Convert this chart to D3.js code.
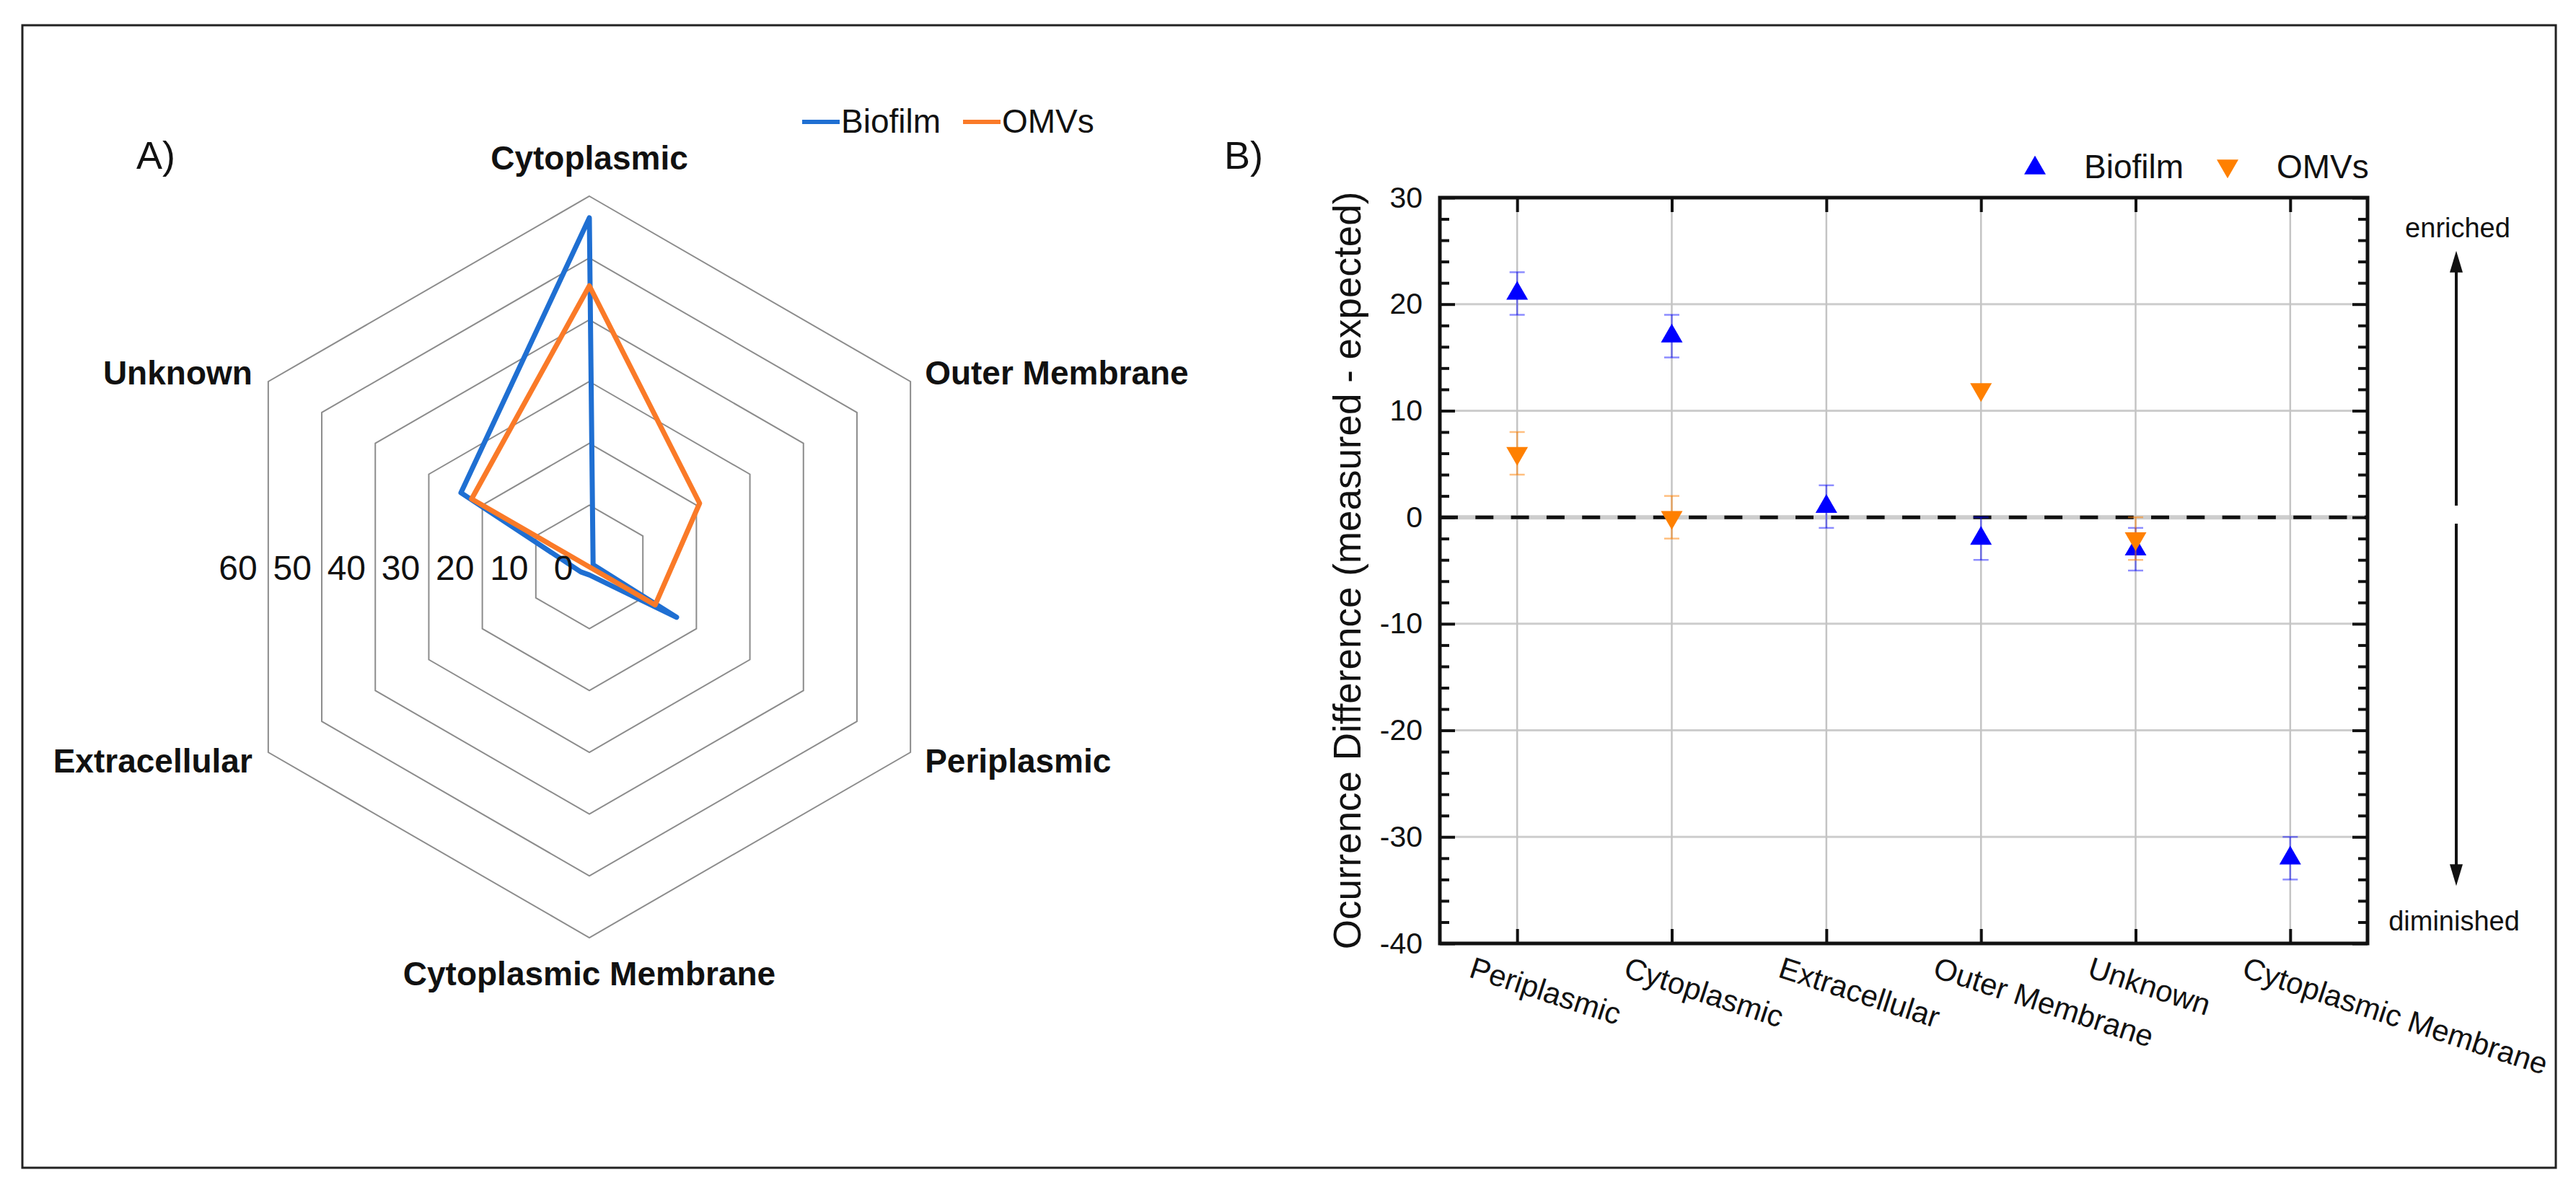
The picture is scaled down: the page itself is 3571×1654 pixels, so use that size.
<!DOCTYPE html>
<html>
<head>
<meta charset="utf-8">
<script src="https://cdnjs.cloudflare.com/ajax/libs/d3/7.8.5/d3.min.js"></script>
<style>
body { margin: 0; background: #fff; }
svg { display: block; font-family: "Liberation Sans", Arial, sans-serif; }
</style>
</head>
<body>
<div id="graphicContainer"></div>
<script>
// panel A : radar
const radarCategories = ["Cytoplasmic", "Outer Membrane", "Periplasmic", "Cytoplasmic Membrane", "Extracellular", "Unknown"]
const radarBiofilm = [56.5, 0.7, 16.3, 1.3, 1.6, 24]
const radarOMVs = [45.5, 20.6, 12.3, 0, 0, 22]
const radarTicks = [0, 10, 20, 30, 40, 50, 60]

// panel B : occurrence difference
const diffCategories = ["Periplasmic", "Cytoplasmic", "Extracellular", "Outer Membrane", "Unknown", "Cytoplasmic Membrane"]
const diffBiofilm = [21, 17, 1, -2, -3, -32]
const diffBiofilmErr = [2, 2, 2, 2, 2, 2]
const diffOMVs = [6, 0, null, 12, -2, null]
const diffOMVsErr = [2, 2, null, 0, 2, null]
const diffTicks = [-40, -30, -20, -10, 0, 10, 20, 30]

const seriesNames = ["Biofilm", "OMVs"]

var W = 3571, H = 1654
var svg = d3.select("#graphicContainer").append("svg")
    .attr("width", W)
    .attr("height", H)

// outer frame
svg.append("rect")
    .attr("x", 31).attr("y", 35)
    .attr("width", 3512).attr("height", 1584)
    .attr("fill", "none")
    .attr("stroke", "#222")
    .attr("stroke-width", 3)

// ---------------- A) radar ----------------
var cx = 817, cy = 786, R = 514
var n = radarCategories.length
var rScale = d3.scaleLinear().domain([0, 60]).range([0, R])
var aScale = d3.scaleLinear().domain([0, n]).range([0, 2 * Math.PI])
var radarColor = d3.scaleOrdinal().domain(seriesNames).range(["#1f6fd2", "#fa7a28"])

function pt(v, i) {
    var a = aScale(i)
    return [cx + rScale(v) * Math.sin(a), cy - rScale(v) * Math.cos(a)]
}
var radarLine = d3.line().curve(d3.curveLinearClosed)

var radar = svg.append("g")

radar.selectAll(".ring")
    .data(radarTicks.filter(t => t > 0))
    .enter()
    .append("path")
    .attr("fill", "none")
    .attr("stroke", "#8c8c8c")
    .attr("stroke-width", 2)
    .attr("d", t => radarLine(radarCategories.map((c, i) => pt(t, i))))

var radarSeries = [
    {key: "Biofilm", values: radarBiofilm},
    {key: "OMVs", values: radarOMVs}
]

radar.selectAll(".series")
    .data(radarSeries)
    .enter()
    .append("path")
    .attr("fill", "none")
    .attr("stroke", d => radarColor(d.key))
    .attr("stroke-width", 7)
    .attr("stroke-linejoin", "round")
    .attr("d", d => radarLine(d.values.map((v, i) => pt(v, i))))

// value labels along the horizontal
var tickX = d3.scaleLinear().domain([0, 60]).range([781, 330])
radar.selectAll(".rtick")
    .data(radarTicks)
    .enter()
    .append("text")
    .attr("x", d => tickX(d))
    .attr("y", cy + 18)
    .attr("text-anchor", "middle")
    .attr("font-size", 48)
    .attr("fill", "#111")
    .text(d => d)

// category labels
radar.selectAll(".cat")
    .data(radarCategories)
    .enter()
    .append("text")
    .attr("font-size", 46)
    .attr("font-weight", "bold")
    .attr("fill", "#111")
    .each(function(d, i) {
        var p = pt(60, i)
        var s = Math.sin(aScale(i)), c = Math.cos(aScale(i))
        var anchor = Math.abs(s) < 0.1 ? "middle" : (s > 0 ? "start" : "end")
        var dx = Math.abs(s) < 0.1 ? 0 : (s > 0 ? 20 : -22)
        var dy = c > 0.9 ? -37 : (c < -0.9 ? 66 : (c > 0 ? 4 : 28))
        d3.select(this)
            .attr("x", p[0] + dx)
            .attr("y", p[1] + dy)
            .attr("text-anchor", anchor)
            .text(d)
    })

// legend A
var legA = svg.append("g")
var legAx = [1112, 1335]
seriesNames.forEach((s, i) => {
    legA.append("line")
        .attr("x1", legAx[i]).attr("x2", legAx[i] + 52)
        .attr("y1", 169).attr("y2", 169)
        .attr("stroke", radarColor(s))
        .attr("stroke-width", 6)
    legA.append("text")
        .attr("x", legAx[i] + 54)
        .attr("y", 184)
        .attr("font-size", 46)
        .attr("fill", "#111")
        .text(s)
})

svg.append("text").attr("x", 189).attr("y", 234).attr("font-size", 54).attr("fill", "#111").text("A)")
svg.append("text").attr("x", 1697).attr("y", 234).attr("font-size", 54).attr("fill", "#111").text("B)")

// ---------------- B) scatter with error bars ----------------
var pLeft = 1996, pRight = 3282, pTop = 274, pBottom = 1308
var x = d3.scalePoint().domain(diffCategories).range([pLeft, pRight]).padding(0.5)
var y = d3.scaleLinear().domain([-40, 30]).range([pBottom, pTop])
var markColor = d3.scaleOrdinal().domain(seriesNames).range(["#0000ff", "#ff8000"])
var errColor = d3.scaleOrdinal().domain(seriesNames).range(["rgba(0,0,255,0.45)", "rgba(255,128,0,0.5)"])

var plot = svg.append("g")

// grid
plot.selectAll(".hgrid")
    .data(diffTicks.filter(t => t > -40 && t < 30))
    .enter()
    .append("line")
    .attr("x1", pLeft).attr("x2", pRight)
    .attr("y1", d => y(d)).attr("y2", d => y(d))
    .attr("stroke", "#cdcdcd")
    .attr("stroke-width", d => d == 0 ? 6 : 3)

plot.selectAll(".vgrid")
    .data(diffCategories)
    .enter()
    .append("line")
    .attr("x1", d => x(d)).attr("x2", d => x(d))
    .attr("y1", pTop).attr("y2", pBottom)
    .attr("stroke", "#c4c4c4")
    .attr("stroke-width", 2.5)

// zero line
plot.append("line")
    .attr("x1", pLeft).attr("x2", pRight)
    .attr("y1", y(0)).attr("y2", y(0))
    .attr("stroke", "#111")
    .attr("stroke-width", 5)
    .attr("stroke-dasharray", "25,24.3")

// axes, ticks inward
var minorTicks = d3.range(-38, 30, 2).filter(t => t % 10 != 0)

function styleAxis(g) {
    g.select(".domain").remove()
    g.selectAll(".tick line").attr("stroke", "#111").attr("stroke-width", 4)
}

plot.append("g")
    .attr("transform", `translate(${pLeft},0)`)
    .call(d3.axisLeft(y).tickValues(diffTicks).tickSize(-21).tickPadding(24).tickFormat(d => String(d)))
    .call(styleAxis)
    .call(g => g.selectAll("text").attr("font-size", 41).attr("fill", "#111").attr("font-family", "Liberation Sans, Arial, sans-serif"))

plot.append("g")
    .attr("transform", `translate(${pLeft},0)`)
    .call(d3.axisLeft(y).tickValues(minorTicks).tickSize(-13).tickFormat(""))
    .call(styleAxis)

plot.append("g")
    .attr("transform", `translate(${pRight},0)`)
    .call(d3.axisRight(y).tickValues(diffTicks).tickSize(-21).tickFormat(""))
    .call(styleAxis)

plot.append("g")
    .attr("transform", `translate(${pRight},0)`)
    .call(d3.axisRight(y).tickValues(minorTicks).tickSize(-13).tickFormat(""))
    .call(styleAxis)

plot.append("g")
    .attr("transform", `translate(0,${pTop})`)
    .call(d3.axisTop(x).tickSize(-20).tickFormat(""))
    .call(styleAxis)

plot.append("g")
    .attr("transform", `translate(0,${pBottom})`)
    .call(d3.axisBottom(x).tickSize(-20))
    .call(styleAxis)
    .call(g => g.selectAll("text")
        .attr("font-size", 42)
        .attr("fill", "#111")
        .attr("font-family", "Liberation Sans, Arial, sans-serif")
        .attr("text-anchor", "start")
        .attr("y", 0).attr("dy", 0)
        .attr("transform", "translate(-69,46) rotate(18)"))

// frame
plot.append("rect")
    .attr("x", pLeft).attr("y", pTop)
    .attr("width", pRight - pLeft).attr("height", pBottom - pTop)
    .attr("fill", "none")
    .attr("stroke", "#111")
    .attr("stroke-width", 5)

// series
var diffSeries = [
    {key: "Biofilm", values: diffBiofilm, err: diffBiofilmErr, rot: 0},
    {key: "OMVs", values: diffOMVs, err: diffOMVsErr, rot: 180}
]
var tri = d3.symbol().type(d3.symbolTriangle).size(390)

diffSeries.forEach(s => {
    var pts = diffCategories.map((c, i) => ({cat: c, v: s.values[i], e: s.err[i]}))
        .filter(d => d.v != null)
    var g = plot.append("g")

    var eb = g.selectAll(".eb")
        .data(pts.filter(d => d.e > 0))
        .enter()
        .append("g")
        .attr("stroke", errColor(s.key))
        .attr("stroke-width", 2.5)
    eb.append("line")
        .attr("x1", d => x(d.cat)).attr("x2", d => x(d.cat))
        .attr("y1", d => y(d.v + d.e)).attr("y2", d => y(d.v - d.e))
    eb.append("line")
        .attr("x1", d => x(d.cat) - 10.5).attr("x2", d => x(d.cat) + 10.5)
        .attr("y1", d => y(d.v + d.e)).attr("y2", d => y(d.v + d.e))
    eb.append("line")
        .attr("x1", d => x(d.cat) - 10.5).attr("x2", d => x(d.cat) + 10.5)
        .attr("y1", d => y(d.v - d.e)).attr("y2", d => y(d.v - d.e))

    g.selectAll(".mk")
        .data(pts)
        .enter()
        .append("path")
        .attr("d", tri)
        .attr("fill", markColor(s.key))
        .attr("transform", d => `translate(${x(d.cat)},${y(d.v)}) rotate(${s.rot})`)
})

// legend B
var legBx = [2821, 3088]
seriesNames.forEach((s, i) => {
    svg.append("path")
        .attr("d", tri)
        .attr("fill", markColor(s))
        .attr("transform", `translate(${legBx[i]},${i == 0 ? 233 : 230}) rotate(${i == 0 ? 0 : 180})`)
    svg.append("text")
        .attr("x", legBx[i] + 68)
        .attr("y", 247)
        .attr("font-size", 46)
        .attr("fill", "#111")
        .text(s)
})

// y title
svg.append("text")
    .attr("transform", `translate(1886,${(pTop + pBottom) / 2}) rotate(-90)`)
    .attr("text-anchor", "middle")
    .attr("font-size", 53)
    .attr("fill", "#111")
    .text("Ocurrence Difference (measured - expected)")

// enriched / diminished arrows
var ax = 3405
var ann = svg.append("g").attr("fill", "#111")
ann.append("line")
    .attr("x1", ax).attr("x2", ax)
    .attr("y1", y(1.1)).attr("y2", y(25) + 20)
    .attr("stroke", "#111").attr("stroke-width", 4)
ann.append("path")
    .attr("d", `M${ax},${y(25)} l-9,30 l18,0 Z`)
ann.append("line")
    .attr("x1", ax).attr("x2", ax)
    .attr("y1", y(-0.6)).attr("y2", y(-34.6) - 20)
    .attr("stroke", "#111").attr("stroke-width", 4)
ann.append("path")
    .attr("d", `M${ax},${y(-34.6)} l-9,-30 l18,0 Z`)

ann.append("text")
    .attr("x", 3407).attr("y", 329)
    .attr("text-anchor", "middle")
    .attr("font-size", 38)
    .text("enriched")
ann.append("text")
    .attr("x", 3402).attr("y", 1290)
    .attr("text-anchor", "middle")
    .attr("font-size", 38)
    .text("diminished")
</script>
</body>
</html>
